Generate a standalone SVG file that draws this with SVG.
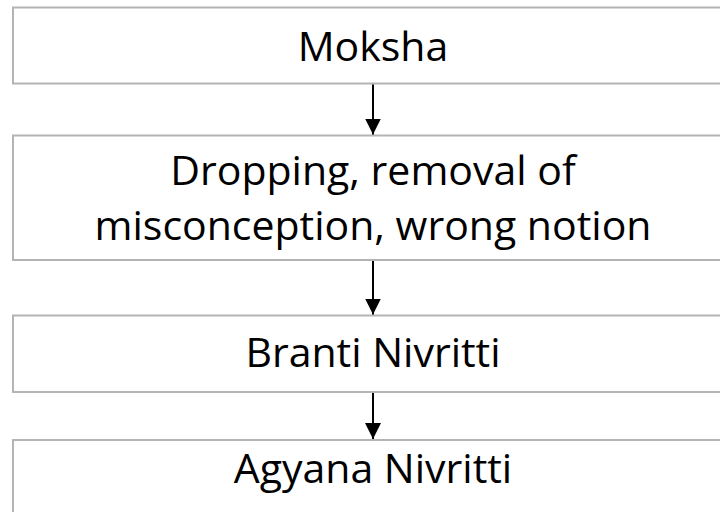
<svg xmlns="http://www.w3.org/2000/svg" width="720" height="512" viewBox="0 0 720 512">
<style>
.box{fill:#ffffff;stroke:#b4b4b4;stroke-width:2}
.lbl{font-family:"Open Sans","Noto Sans",sans-serif;font-size:41px;fill:#000000;text-anchor:middle}
.con{stroke:#000000;stroke-width:2;fill:none}
</style>
<defs>
<marker id="ah" markerWidth="8" markerHeight="8" refX="8" refY="4" orient="auto" markerUnits="strokeWidth">
<path d="M0,0 L8,4 L0,8 Z" fill="#000000"/>
</marker>
</defs>
<rect width="720" height="512" fill="#ffffff"/>
<g id="moksha">
<rect class="box" x="13" y="7.5" width="720" height="76"/>
<text class="lbl" x="373" y="61">Moksha</text>
</g>
<g id="dropping">
<rect class="box" x="13" y="135.5" width="720" height="124.5"/>
<text class="lbl" x="373" y="185">Dropping, removal of</text>
<text class="lbl" x="373" y="240">misconception, wrong notion</text>
</g>
<g id="branti">
<rect class="box" x="13" y="315.5" width="720" height="76.5"/>
<text class="lbl" x="373" y="367">Branti Nivritti</text>
</g>
<g id="agyana">
<rect class="box" x="13" y="440" width="720" height="90"/>
<text class="lbl" x="373" y="483">Agyana Nivritti</text>
</g>
<g id="connectors">
<line class="con" x1="373" y1="84.5" x2="373" y2="134.5" marker-end="url(#ah)"/>
<line class="con" x1="373" y1="261" x2="373" y2="314.5" marker-end="url(#ah)"/>
<line class="con" x1="373" y1="393" x2="373" y2="439" marker-end="url(#ah)"/>
</g>
</svg>
